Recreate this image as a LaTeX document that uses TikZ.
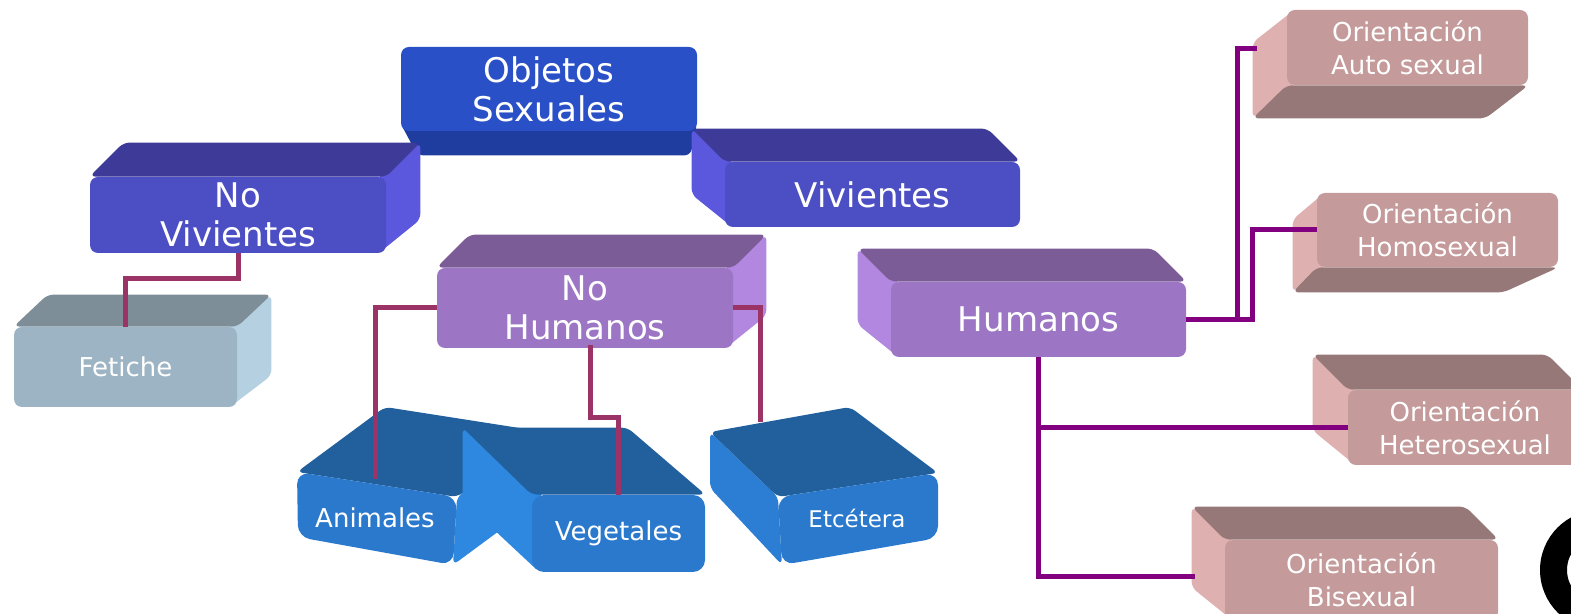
\documentclass[tikz,border=0pt]{standalone}
\usepackage{fontspec}
\setmainfont{DejaVu Sans}
\usetikzlibrary{calc,positioning,backgrounds}

\definecolor{objfront}{HTML}{2A50C8}
\definecolor{objbot}{HTML}{1F3D9E}
\definecolor{vivfront}{HTML}{4C4EC4}
\definecolor{vivtop}{HTML}{3D3B97}
\definecolor{vivside}{HTML}{5B58DE}
\definecolor{fetfront}{HTML}{9DB4C4}
\definecolor{fettop}{HTML}{7E8E98}
\definecolor{fetside}{HTML}{B4D0E1}
\definecolor{humfront}{HTML}{9C76C4}
\definecolor{humtop}{HTML}{7B5C96}
\definecolor{humside}{HTML}{B287DF}
\definecolor{orifront}{HTML}{C49A9A}
\definecolor{oridark}{HTML}{967878}
\definecolor{orilight}{HTML}{DEB0B0}
\definecolor{bluefront}{HTML}{2A79CC}
\definecolor{bluetop}{HTML}{21609D}
\definecolor{blueside}{HTML}{2E88DF}
\definecolor{bluemid}{HTML}{2B7ED3}
\definecolor{linkred}{HTML}{9C3366}
\definecolor{linkpurple}{HTML}{82007F}

\begin{document}
\begin{tikzpicture}[x=0.5pt,y=-0.5pt]
    \tikzstyle{front} = [rounded corners=4pt, inner sep=0pt, align=center, text=white]
    \tikzstyle{face} = [rounded corners=3pt]
    \tikzstyle{bigtxt} = [font=\fontsize{17}{19.5}\selectfont]
    \tikzstyle{smalltxt} = [font=\fontsize{13}{16.5}\selectfont]
    \tikzstyle{redlink} = [draw=linkred, line width=2.5pt]
    \tikzstyle{purplink} = [draw=linkpurple, line width=2.5pt]

    \useasboundingbox (0,0) rectangle (1571,614);
    \clip (0,0) rectangle (1571,614);

    % Top level .........................
    \node[front, bigtxt, fill=objfront, minimum width=148pt, minimum height=42pt] (obj) at (549,89) {Objetos\\Sexuales};
    \begin{scope}[on background layer]
        \fill[objbot, face] ($(obj.south west)+(0,-8)$) -- ($(obj.south west)+(17,24)$) -- ($(obj.south east)+(-7,24)$) -- ($(obj.south east)+(0,-8)$) -- cycle;
    \end{scope}

    % No vivientes / Vivientes .........................
    \node[front, bigtxt, fill=vivfront, minimum width=148pt, minimum height=38pt] (nviv) at (238,215) {No\\Vivientes};
    \begin{scope}[on background layer]
        \fill[vivside, face] ($(nviv.north east)+(-8,0)$) -- ($(nviv.north east)+(34,-34)$) -- ($(nviv.south east)+(34,-34)$) -- ($(nviv.south east)+(-8,0)$) -- cycle;
        \fill[vivtop, face] (nviv.north west) -- ($(nviv.north west)+(34,-34)$) -- ($(nviv.north east)+(34,-34)$) -- (nviv.north east) -- cycle;
    \end{scope}

    \node[front, bigtxt, fill=vivfront, minimum width=147.5pt, minimum height=32.5pt] (viv) at (872.5,194.5) {Vivientes};
    \begin{scope}[on background layer]
        \fill[vivside, face] ($(viv.north west)+(8,0)$) -- ($(viv.north west)+(-33,-33)$) -- ($(viv.south west)+(-33,-33)$) -- ($(viv.south west)+(8,0)$) -- cycle;
        \fill[vivtop, face] (viv.north west) -- ($(viv.north west)+(-33,-33)$) -- ($(viv.north east)+(-33,-33)$) -- (viv.north east) -- cycle;
    \end{scope}

    % Fetiche .........................
    \node[front, smalltxt, fill=fetfront, minimum width=111.5pt, minimum height=40pt] (fet) at (125.5,367) {Fetiche};
    \begin{scope}[on background layer]
        \fill[fetside, face] ($(fet.north east)+(-8,0)$) -- ($(fet.north east)+(34,-32)$) -- ($(fet.south east)+(34,-32)$) -- ($(fet.south east)+(-8,0)$) -- cycle;
        \fill[fettop, face] (fet.north west) -- ($(fet.north west)+(34,-32)$) -- ($(fet.north east)+(34,-32)$) -- (fet.north east) -- cycle;
    \end{scope}

    % No humanos / Humanos .........................
    \node[front, bigtxt, fill=humfront, minimum width=148pt, minimum height=40pt] (nhum) at (585,308) {No\\Humanos};
    \begin{scope}[on background layer]
        \fill[humside, face] ($(nhum.north east)+(-8,0)$) -- ($(nhum.north east)+(33,-33)$) -- ($(nhum.south east)+(33,-33)$) -- ($(nhum.south east)+(-8,0)$) -- cycle;
        \fill[humtop, face] (nhum.north west) -- ($(nhum.north west)+(33,-33)$) -- ($(nhum.north east)+(33,-33)$) -- (nhum.north east) -- cycle;
    \end{scope}

    \node[front, bigtxt, fill=humfront, minimum width=147.5pt, minimum height=37.5pt] (hum) at (1038.5,319.5) {Humanos};
    \begin{scope}[on background layer]
        \fill[humside, face] ($(hum.north west)+(8,0)$) -- ($(hum.north west)+(-33,-33)$) -- ($(hum.south west)+(-33,-33)$) -- ($(hum.south west)+(8,0)$) -- cycle;
        \fill[humtop, face] (hum.north west) -- ($(hum.north west)+(-33,-33)$) -- ($(hum.north east)+(-33,-33)$) -- (hum.north east) -- cycle;
    \end{scope}

    % Blue boxes .........................
    \begin{scope}[on background layer]
        \fill[bluetop, face] (297,472) -- (385,407) -- (545,432) -- (457,497) -- cycle;
        \fill[blueside, face] (457,497) -- (545,432) -- (541,500) -- (453,565) -- cycle;
        \fill[bluefront, rounded corners=6pt] (297,472) -- (457,497) -- (453,565) -- (298,537) -- cycle;
    \end{scope}
    \node[text=white, smalltxt] (anim) at (375,518) {Animales};

    \node[front, smalltxt, fill=bluefront, rounded corners=6pt, minimum width=86.5pt, minimum height=38.5pt] (veg) at (618.5,533.5) {Vegetales};
    \begin{scope}[on background layer]
        \fill[blueside, face] ($(veg.north west)+(8,0)$) -- ($(veg.north west)+(-69,-67)$) -- ($(veg.south west)+(-69,-72)$) -- ($(veg.south west)+(8,0)$) -- cycle;
        \fill[bluetop, face] (veg.north west) -- ($(veg.north west)+(-69,-67)$) -- ($(veg.north east)+(-78,-67)$) -- (veg.north east) -- cycle;
    \end{scope}

    \begin{scope}[on background layer]
        \fill[bluemid, face] (710,432) -- (778,497) -- (782,565) -- (710,488) -- cycle;
        \fill[bluetop, face] (710,432) -- (850,407) -- (938,473) -- (778,497) -- cycle;
        \fill[bluefront, rounded corners=6pt] (778,497) -- (938,473) -- (938,538) -- (782,565) -- cycle;
    \end{scope}
    \node[text=white, font=\fontsize{11.5}{14}\selectfont] (etc) at (857,518) {Etcétera};

    % Orientaciones .........................
    \node[front, smalltxt, fill=orifront, minimum width=120.5pt, minimum height=37.5pt] (auto) at (1407.5,47.5) {Orientación\\Auto sexual};
    \begin{scope}[on background layer]
        \fill[orilight, face] ($(auto.north west)+(8,0)$) -- ($(auto.north west)+(-34,33)$) -- ($(auto.south west)+(-34,33)$) -- ($(auto.south west)+(8,0)$) -- cycle;
        \fill[oridark, face] (auto.south west) -- ($(auto.south west)+(-34,33)$) -- ($(auto.south east)+(-43,33)$) -- (auto.south east) -- cycle;
    \end{scope}

    \node[front, smalltxt, fill=orifront, minimum width=120.5pt, minimum height=37pt] (homo) at (1437.5,230) {Orientación\\Homosexual};
    \begin{scope}[on background layer]
        \fill[orilight, face] ($(homo.north west)+(8,0)$) -- ($(homo.north west)+(-24,27)$) -- ($(homo.south west)+(-24,25)$) -- ($(homo.south west)+(8,0)$) -- cycle;
        \fill[oridark, face] (homo.south west) -- ($(homo.south west)+(-24,25)$) -- ($(homo.south east)+(-55,25)$) -- (homo.south east) -- cycle;
    \end{scope}

    \node[front, smalltxt, fill=orifront, minimum width=117pt, minimum height=37.5pt] (het) at (1465,427.5) {Orientación\\Heterosexual};
    \begin{scope}[on background layer]
        \fill[orilight, face] ($(het.north west)+(8,0)$) -- ($(het.north west)+(-35,-35)$) -- ($(het.south west)+(-35,-35)$) -- ($(het.south west)+(8,0)$) -- cycle;
        \fill[oridark, face] (het.north west) -- ($(het.north west)+(-35,-35)$) -- ($(het.north east)+(-35,-35)$) -- (het.north east) -- cycle;
    \end{scope}

    \node[front, smalltxt, fill=orifront, minimum width=136.5pt, minimum height=40pt] (bis) at (1361.5,580) {Orientación\\Bisexual};
    \begin{scope}[on background layer]
        \fill[orilight, face] ($(bis.north west)+(8,0)$) -- ($(bis.north west)+(-33,-33)$) -- ($(bis.south west)+(-33,-33)$) -- ($(bis.south west)+(8,0)$) -- cycle;
        \fill[oridark, face] (bis.north west) -- ($(bis.north west)+(-33,-33)$) -- ($(bis.north east)+(-33,-33)$) -- (bis.north east) -- cycle;
    \end{scope}

    % Connectors .........................
    \coordinate (animtop) at (375,479);
    \coordinate (etctop) at (760,422);
    \coordinate (autoin) at (1257,49);
    \coordinate (bisin) at (1195,577);

    \draw[redlink] (nviv.south) -- ++(0,25) -| (fet.north);
    \draw[redlink] (nhum.west) -| (animtop);
    \draw[redlink] ($(nhum.south)+(5,-3)$) -- ++(0,72) -| (veg.north);
    \draw[redlink] (nhum.east) -| (etctop);

    \draw[purplink] (hum.east) -- ++(51,0) |- (autoin);
    \draw[purplink] (hum.east) -- ++(66,0) |- (homo.west);
    \draw[purplink] (hum.south) |- (het.west);
    \draw[purplink] (hum.south) |- (bisin);

    % Corner mark
    \fill[black, even odd rule] (1600,570) circle (30pt) (1600,570) circle (16.5pt);

\end{tikzpicture}
\end{document}
